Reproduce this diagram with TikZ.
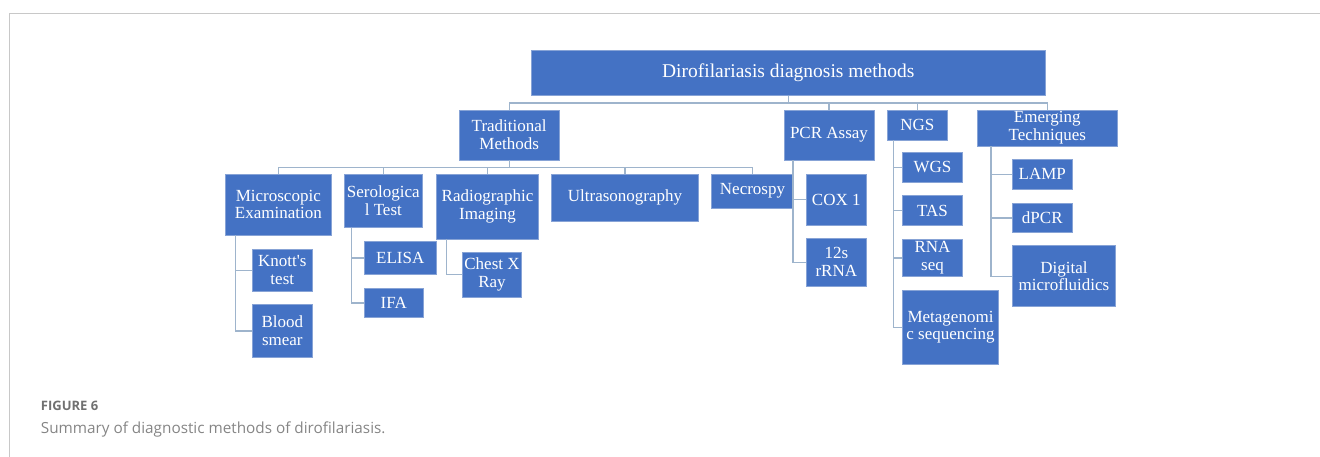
\documentclass[tikz,border=0pt]{standalone}
\usepackage{fontspec}
\setmainfont{Liberation Serif}
\newfontfamily\capfont{Open Sans}
\usepackage{tikz}
\definecolor{boxblu}{RGB}{68,114,196}
\definecolor{boxedge}{RGB}{135,163,214}
\definecolor{linkgry}{RGB}{158,180,204}
\definecolor{framegry}{RGB}{200,200,200}
\definecolor{capgry}{RGB}{112,112,112}

\begin{document}
\begin{tikzpicture}[x=1pt, y=-1pt,
    dbox/.style={draw=boxedge, line width=0.6pt, fill=boxblu, text=white,
                 align=center, inner sep=0pt,
                 font=\fontsize{17}{17.7}\selectfont},
    conn/.style={draw=linkgry, line width=1.4pt}]
  \useasboundingbox (0,0) rectangle (1320,457);
  % frame
  \draw[framegry, line width=1.2pt] (1320,13.3) -- (9.3,13.3) -- (9.3,457);

  % root
  \node[dbox, minimum width=513.3pt, minimum height=45pt,
        font=\fontsize{19.5}{21}\selectfont] (root) at (788.3,73.2)
        {Dirofilariasis diagnosis methods};
  % first level
  \node[dbox, minimum width=99.7pt, minimum height=50pt] (trad) at (509.2,135) {Traditional\\Methods};
  \node[dbox, minimum width=90pt, minimum height=50pt] (pcr) at (829,135) {PCR Assay};
  \node[dbox, minimum width=60pt, minimum height=30pt] (ngs) at (917.3,125) {NGS};
  \node[dbox, minimum width=140pt, minimum height=36pt] (emerg) at (1047.3,128) {Emerging\\Techniques};
  % traditional methods
  \node[dbox, minimum width=105.3pt, minimum height=61pt] (micro) at (278.3,204.5) {Microscopic\\Examination};
  \node[dbox, minimum width=78.7pt, minimum height=53.3pt] (sero) at (383.3,200.7) {Serologica\\l Test};
  \node[dbox, minimum width=101.6pt, minimum height=65pt] (radio) at (487.5,206.5) {Radiographic\\Imaging};
  \node[dbox, minimum width=146.6pt, minimum height=47.7pt] (ultra) at (625,197.8) {Ultrasonography};
  \node[dbox, minimum width=81.6pt, minimum height=34.3pt] (necro) at (752.5,191.2) {Necrospy};
  % microscopy, serology, imaging
  \node[dbox, minimum width=60pt, minimum height=41.7pt] (knott) at (282.3,270.2) {Knott\textquotesingle s\\test};
  \node[dbox, minimum width=60pt, minimum height=53pt] (blood) at (282.3,330.8) {Blood\\smear};
  \node[dbox, minimum width=71.7pt, minimum height=32.6pt] (elisa) at (400.2,258) {ELISA};
  \node[dbox, minimum width=59pt, minimum height=29pt] (ifa) at (393.8,302.8) {IFA};
  \node[dbox, minimum width=59.4pt, minimum height=44.7pt] (chest) at (492,274.7) {Chest X\\Ray};
  % PCR targets
  \node[dbox, minimum width=59.3pt, minimum height=51pt] (cox) at (836.3,199.5) {COX 1};
  \node[dbox, minimum width=59.3pt, minimum height=47.7pt] (rrna) at (836.3,262.2) {12s\\rRNA};
  % NGS
  \node[dbox, minimum width=59.6pt, minimum height=29.6pt] (wgs) at (932.5,167.5) {WGS};
  \node[dbox, minimum width=59.6pt, minimum height=29.6pt] (tas) at (932.5,210.5) {TAS};
  \node[dbox, minimum width=59.6pt, minimum height=37.4pt] (rnaseq) at (932.5,258) {RNA\\seq};
  \node[dbox, minimum width=95.6pt, minimum height=73.3pt] (meta) at (950.5,327.3) {Metagenomi\\c sequencing};
  % emerging
  \node[dbox, minimum width=60pt, minimum height=30pt] (lamp) at (1042.3,174.3) {LAMP};
  \node[dbox, minimum width=60pt, minimum height=29.4pt] (dpcr) at (1042.3,218) {dPCR};
  \node[dbox, minimum width=103.4pt, minimum height=61pt] (digit) at (1064,276.2) {Digital\\microfluidics};

  % root links
  \foreach \kid in {trad, pcr, ngs, emerg}
    \draw[conn] (root.south) -- ++(0,7) -| (\kid.north);
  % traditional links
  \foreach \kid in {micro, sero, radio, ultra, necro}
    \draw[conn] (trad.south) -- ++(0,7.5) -| (\kid.north);
  % side links
  \foreach \kid in {knott, blood}
    \draw[conn] ([xshift=10.3pt]micro.south west) |- (\kid.west);
  \foreach \kid in {elisa, ifa}
    \draw[conn] ([xshift=8pt]sero.south west) |- (\kid.west);
  \draw[conn] ([xshift=10.3pt]radio.south west) |- (chest.west);
  \foreach \kid in {cox, rrna}
    \draw[conn] ([xshift=9.3pt]pcr.south west) |- (\kid.west);
  \foreach \kid in {wgs, tas, rnaseq, meta}
    \draw[conn] ([xshift=6.7pt]ngs.south west) |- (\kid.west);
  \foreach \kid in {lamp, dpcr, digit}
    \draw[conn] ([xshift=14pt]emerg.south west) |- (\kid.west);

  % caption
  \node[anchor=base west, inner sep=0pt, text=capgry,
        font=\capfont\bfseries\fontsize{13}{15}\selectfont] (figlbl) at (40.7,410.5) {FIGURE 6};
  \node[anchor=base west, inner sep=0pt, text=capgry!85,
        font=\capfont\fontsize{15.3}{18}\selectfont] (figcap) at (40.7,433.5)
        {Summary of diagnostic methods of dirofilariasis.};
\end{tikzpicture}
\end{document}
